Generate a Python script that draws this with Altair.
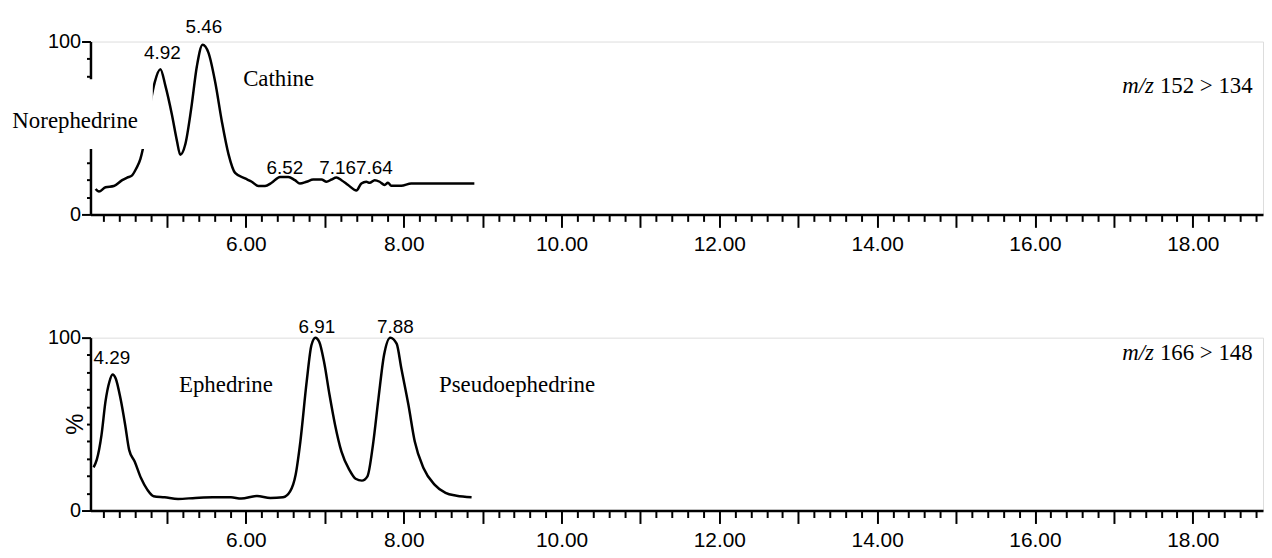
import altair as alt
import pandas as pd

# ---------------- data ----------------
# top trace: m/z 152 > 134
top_rt = [4.095, 4.137, 4.221, 4.326, 4.432, 4.495, 4.558, 4.608, 4.663, 4.693, 4.78,
          4.844, 4.916, 4.979, 5.063, 5.126, 5.168, 5.232, 5.307, 5.379, 5.451, 5.526,
          5.611, 5.695, 5.779, 5.863, 5.989, 6.074, 6.158, 6.242, 6.326, 6.432, 6.537,
          6.621, 6.684, 6.768, 6.853, 6.958, 7.021, 7.084, 7.147, 7.211, 7.295, 7.400,
          7.463, 7.526, 7.568, 7.632, 7.695, 7.758, 7.800, 7.842, 7.968, 8.095, 8.895]
top_int = [14.7, 13.2, 15.7, 16.4, 19.8, 21.3, 22.6, 26.4, 32.1, 37.7, 62.0,
           76.4, 84.0, 74.5, 57.5, 42.5, 34.5, 40.6, 61.3, 85.8, 98.1, 93.4,
           76.4, 53.8, 34.9, 24.0, 20.8, 18.9, 16.4, 16.4, 18.3, 21.7, 21.7,
           19.8, 17.9, 18.9, 20.2, 20.2, 18.9, 20.2, 21.3, 19.8, 17.0, 13.8,
           17.9, 18.9, 18.3, 19.8, 18.9, 17.0, 18.3, 16.6, 16.6, 17.9, 17.9]

# bottom trace: m/z 166 > 148
bot_rt = [4.07, 4.11, 4.17, 4.22, 4.27, 4.31, 4.35, 4.41, 4.47, 4.52, 4.59, 4.67, 4.75,
          4.83, 4.97, 5.14, 5.36, 5.58, 5.81, 5.94, 6.14, 6.31, 6.47, 6.56, 6.63, 6.69,
          6.77, 6.83, 6.88, 6.93, 6.99, 7.06, 7.13, 7.21, 7.31, 7.39, 7.47, 7.54, 7.61,
          7.68, 7.75, 7.83, 7.91, 7.97, 8.06, 8.14, 8.25, 8.39, 8.53, 8.67, 8.86]
bot_int = [25.0, 29.4, 43.8, 63.0, 74.5, 78.7, 76.4, 64.9, 49.5, 35.1, 28.4, 18.8, 12.1,
           8.3, 7.7, 6.7, 7.3, 7.7, 7.7, 6.9, 8.4, 7.3, 7.7, 11.1, 20.7, 39.9,
           74.5, 95.6, 100.0, 97.5, 86.0, 66.8, 49.5, 34.2, 23.6, 18.4, 17.3, 19.8, 38.0,
           64.9, 89.8, 100.0, 96.5, 82.1, 61.0, 39.9, 24.6, 15.0, 10.2, 8.6, 7.7]

# peak labels
top_peak_lbl = ["4.92", "5.46", "6.52", "7.16", "7.64"]
top_peak_x = [4.94, 5.468, 6.495, 7.163, 7.629]
top_peak_y = [89.7, 105.0, 23.6, 23.6, 23.6]
bot_peak_lbl = ["4.29", "6.91", "7.88"]
bot_peak_x = [4.30, 6.898, 7.893]
bot_peak_y = [84.5, 102.9, 102.9]

# compound names
top_names = ["Cathine"]
top_names_x = [6.415]
top_names_y = [74.1]
bot_names = ["Ephedrine", "Pseudoephedrine"]
bot_names_x = [5.746, 9.436]
bot_names_y = [68.4, 68.4]

# transitions
mz_prefix = "m/z"
top_mz = "152 > 134"
bot_mz = "166 > 148"
mz_x = [17.507, 17.583]
top_mz_y = 70.1
bot_mz_y = 86.8

# axis values
x_domain = [4.03, 18.89]
x_major_vals = list(range(5, 19))
x_minor_vals = [round(4.2 + 0.2 * i, 1) for i in range(74) if abs((4.2 + 0.2 * i) - round(4.2 + 0.2 * i)) > 0.05]
y_major_vals = [0, 100]
y_minor_vals = [10, 20, 30, 40, 50, 60, 70, 80, 90]

SANS = "Liberation Sans, Arial, sans-serif"
SERIF = "Liberation Serif, Times New Roman, serif"

W, H = 1180, 174

xs = alt.Scale(domain=x_domain, nice=False, zero=False)
ys = alt.Scale(domain=[0, 100], nice=False, zero=True)

x_major = alt.Axis(values=x_major_vals, orient="bottom", title=None, grid=False,
                   labelExpr="datum.value % 2 == 0 ? format(datum.value, '.2f') : ''",
                   tickSize=13, tickWidth=2, tickColor="black",
                   domainColor="black", domainWidth=2.5,
                   labelFont=SANS, labelFontSize=21, labelColor="black",
                   labelPadding=6, labelOverlap=False, labelFlush=False)
x_minor = alt.Axis(values=x_minor_vals, orient="bottom", title=None, grid=False,
                   labels=False, domain=False, tickSize=7, tickWidth=2, tickColor="black")
y_major = alt.Axis(values=y_major_vals, orient="left", title=None, grid=False,
                   tickSize=9, tickWidth=2, tickColor="black",
                   domainColor="black", domainWidth=2.5,
                   labelFont=SANS, labelFontSize=20, labelColor="black",
                   labelPadding=1, labelFlush=False, labelOverlap=False)
y_minor = alt.Axis(values=y_minor_vals, orient="left", title=None, grid=False,
                   labels=False, domain=False, tickSize=4, tickWidth=2, tickColor="black")


def text_layer(df, font, size, align="center", baseline="alphabetic", style="normal", angle=0):
    return alt.Chart(df).mark_text(font=font, fontSize=size, align=align, baseline=baseline,
                                   fontStyle=style, angle=angle, color="black").encode(
        x=alt.X("x:Q", scale=xs, axis=None), y=alt.Y("y:Q", scale=ys, axis=None), text="t:N")


def panel(rt, inten, peak_lbl, peak_x, peak_y, names, names_x, names_y, mz, mz_y, extra):
    trace = pd.DataFrame({"rt": rt, "int": inten})
    line = alt.Chart(trace).mark_line(color="black", strokeWidth=2.5, interpolate="monotone").encode(
        x=alt.X("rt:Q", scale=xs, axis=x_major),
        y=alt.Y("int:Q", scale=ys, axis=y_major))
    ghost = alt.Chart(trace).mark_point(opacity=0).encode(
        x=alt.X("rt:Q", scale=xs, axis=x_minor),
        y=alt.Y("int:Q", scale=ys, axis=y_minor))
    peaks = text_layer(pd.DataFrame({"x": peak_x, "y": peak_y, "t": peak_lbl}), SANS, 19)
    nm = text_layer(pd.DataFrame({"x": names_x, "y": names_y, "t": names}), SERIF, 23)
    mz1 = text_layer(pd.DataFrame({"x": [mz_x[0]], "y": [mz_y], "t": [mz_prefix]}), SERIF, 23,
                     align="right", style="italic")
    mz2 = text_layer(pd.DataFrame({"x": [mz_x[1]], "y": [mz_y], "t": [mz]}), SERIF, 23, align="left")
    layers = [line, ghost] + extra + [peaks, nm, mz1, mz2]
    return alt.layer(*layers).resolve_axis(x="independent", y="independent").properties(width=W, height=H)


# top panel extras: white label box behind "Norephedrine" and the label itself
mask = alt.Chart(pd.DataFrame({"x": [3.0], "x2": [4.82], "y": [37.9], "y2": [78.2]})).mark_rect(
    color="white").encode(x=alt.X("x:Q", scale=xs, axis=None), x2="x2:Q",
                          y=alt.Y("y:Q", scale=ys, axis=None), y2="y2:Q")
noreph = text_layer(pd.DataFrame({"x": [3.04], "y": [50.0], "t": ["Norephedrine"]}), SERIF, 23, align="left")

pct = text_layer(pd.DataFrame({"x": [3.85], "y": [50], "t": ["%"]}), SANS, 24,
                 baseline="middle", angle=270)

top = panel(top_rt, top_int, top_peak_lbl, top_peak_x, top_peak_y, top_names, top_names_x, top_names_y,
            top_mz, top_mz_y, [mask, noreph])
bottom = panel(bot_rt, bot_int, bot_peak_lbl, bot_peak_x, bot_peak_y, bot_names, bot_names_x, bot_names_y,
               bot_mz, bot_mz_y, [pct])

chart = alt.vconcat(top, bottom, spacing=124, bounds="flush").properties(
    padding={"left": 0, "top": 7, "right": 0, "bottom": 0}
).configure_view(stroke=None).configure(background="white")

chart.save("out.html", embed_options={"renderer": "svg", "actions": False})
